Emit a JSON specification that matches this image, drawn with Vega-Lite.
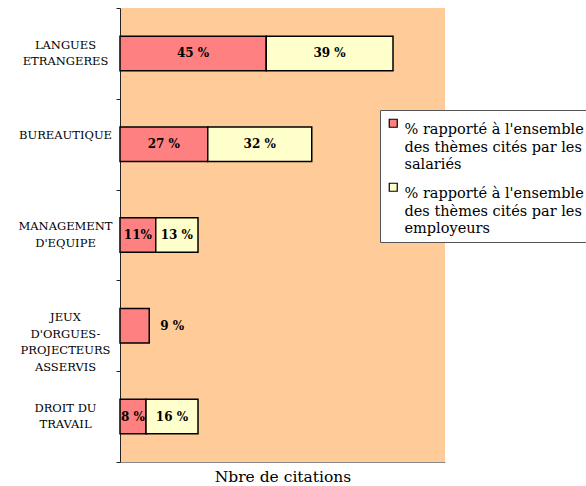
{
  "$schema": "https://vega.github.io/schema/vega-lite/v6.json",
  "width": 325,
  "height": 454,
  "autosize": "none",
  "padding": {"left": 120, "top": 8, "right": 141, "bottom": 24},
  "background": "white",
  "config": {
    "view": {"stroke": null, "fill": "#FFCC99"}
  },
  "data": {
    "values": [
      {"cat": "LANGUES|ETRANGERES", "serie": "% rapporté à l'ensemble des thèmes cités par les salariés", "v": 45, "label": "45 %"},
      {"cat": "LANGUES|ETRANGERES", "serie": "% rapporté à l'ensemble des thèmes cités par les employeurs", "v": 39, "label": "39 %"},
      {"cat": "BUREAUTIQUE", "serie": "% rapporté à l'ensemble des thèmes cités par les salariés", "v": 27, "label": "27 %"},
      {"cat": "BUREAUTIQUE", "serie": "% rapporté à l'ensemble des thèmes cités par les employeurs", "v": 32, "label": "32 %"},
      {"cat": "MANAGEMENT|D'EQUIPE", "serie": "% rapporté à l'ensemble des thèmes cités par les salariés", "v": 11, "label": "11%"},
      {"cat": "MANAGEMENT|D'EQUIPE", "serie": "% rapporté à l'ensemble des thèmes cités par les employeurs", "v": 13, "label": "13 %"},
      {"cat": "JEUX|D'ORGUES-|PROJECTEURS|ASSERVIS", "serie": "% rapporté à l'ensemble des thèmes cités par les salariés", "v": 9, "label": "9 %"},
      {"cat": "DROIT DU|TRAVAIL", "serie": "% rapporté à l'ensemble des thèmes cités par les salariés", "v": 8, "label": "8 %"},
      {"cat": "DROIT DU|TRAVAIL", "serie": "% rapporté à l'ensemble des thèmes cités par les employeurs", "v": 16, "label": "16 %"}
    ]
  },
  "transform": [
    {"stack": "v", "groupby": ["cat"], "sort": [{"field": "serie", "order": "descending"}], "as": ["x0", "x1"]},
    {"calculate": "(datum.x0 + datum.x1) / 2", "as": "mid"}
  ],
  "encoding": {
    "y": {
      "field": "cat",
      "type": "nominal",
      "sort": null,
      "scale": {"paddingInner": 0, "paddingOuter": 0},
      "axis": {
        "title": null,
        "labelExpr": "split(datum.label, '|')",
        "labelFont": "DejaVu Serif",
        "labelFontSize": 11.5,
        "labelLineHeight": 16.5,
        "labelAlign": "center",
        "labelBaseline": "middle",
        "labelColor": "black",
        "labelLimit": 200,
        "labelOverlap": false,
        "labelPadding": 51,
        "labelOffset": -8.25,
        "tickBand": "extent",
        "tickSize": 4,
        "tickColor": "#222",
        "domainColor": "#222"
      }
    }
  },
  "layer": [
    {
      "mark": {"type": "bar", "height": {"band": 0.38}, "stroke": "black", "strokeWidth": 1.5},
      "encoding": {
        "x": {
          "field": "x0",
          "type": "quantitative",
          "scale": {"domain": [0, 100], "nice": false},
          "axis": {
            "labels": false,
            "ticks": false,
            "grid": false,
            "domainColor": "#888",
            "title": "Nbre de citations",
            "titleFont": "DejaVu Serif",
            "titleFontSize": 15.5,
            "titleFontWeight": "normal",
            "titleColor": "black",
            "titlePadding": 7
          }
        },
        "x2": {"field": "x1"},
        "color": {
          "field": "serie",
          "type": "nominal",
          "scale": {
            "domain": ["% rapporté à l'ensemble des thèmes cités par les salariés", "% rapporté à l'ensemble des thèmes cités par les employeurs"],
            "range": ["#FF8080", "#FFFFCC"]
          },
          "legend": {
            "orient": "none",
            "legendX": 260,
            "legendY": 102,
            "title": null,
            "fillColor": "white",
            "strokeColor": "#555",
            "padding": 6,
            "labelFont": "DejaVu Serif",
            "labelFontSize": 14.5,
            "labelLimit": 300,
            "labelColor": "black",
            "labelBaseline": "top",
            "symbolType": "square",
            "symbolSize": 64,
            "symbolStrokeColor": "black",
            "symbolStrokeWidth": 1.2,
            "rowPadding": 8,
            "encode": {
              "labels": {
                "update": {
                  "text": {"signal": "[slice(datum.label, 0, 23), slice(datum.label, 24, 48), slice(datum.label, 49)]"},
                  "lineHeight": {"value": 17.5}
                }
              }
            }
          }
        }
      }
    },
    {
      "transform": [{"filter": "indexof(datum.cat, 'JEUX') < 0"}],
      "mark": {"type": "text", "font": "DejaVu Serif", "fontSize": 12, "fontWeight": "bold", "color": "black"},
      "encoding": {
        "x": {"field": "mid", "type": "quantitative"},
        "text": {"field": "label"}
      }
    },
    {
      "transform": [{"filter": "indexof(datum.cat, 'JEUX') >= 0"}],
      "mark": {"type": "text", "font": "DejaVu Serif", "fontSize": 12, "fontWeight": "bold", "color": "black", "align": "left", "dx": 11},
      "encoding": {
        "x": {"field": "x1", "type": "quantitative"},
        "text": {"field": "label"}
      }
    }
  ]
}
